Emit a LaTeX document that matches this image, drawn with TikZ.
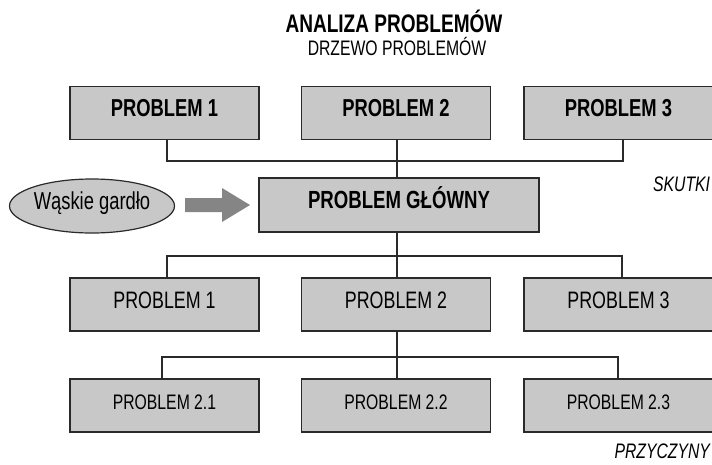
\documentclass[tikz,border=0pt]{standalone}
\usepackage{fontspec}
\setmainfont{Liberation Sans}[FakeStretch=0.75]
\usetikzlibrary{shapes.geometric}
\definecolor{boxfill}{HTML}{C8C8C8}
\definecolor{edge}{HTML}{2A2A2A}
\definecolor{arrowgray}{HTML}{858585}

\begin{document}
\begin{tikzpicture}[x=1pt,y=-1pt,
  every node/.style={inner sep=0pt, outer sep=0pt},
  pbox/.style={draw=edge, line width=1.4pt, fill=boxfill,
    minimum width=189pt, minimum height=53pt, text height=0.72em, text depth=0pt},
  lvlA/.style={pbox, font=\fontsize{24.5}{28}\selectfont\bfseries},
  lvlB/.style={pbox, font=\fontsize{23.8}{28}\selectfont},
  lvlC/.style={pbox, font=\fontsize{21}{25}\selectfont},
  link/.style={draw=edge, line width=1.2pt},
  side/.style={font=\fontsize{21}{25}\selectfont\itshape, anchor=base east}
]
\useasboundingbox (0,0) rectangle (712,464);
\clip (0,0) rectangle (712,464);

% headings
\node[font=\fontsize{25.4}{29}\selectfont\bfseries, anchor=base] (title) at (394,32) {ANALIZA PROBLEMÓW};
\node[font=\fontsize{21}{25}\selectfont, anchor=base] (subtitle) at (397,55) {DRZEWO PROBLEMÓW};

% effects
\node[lvlA] (t1) at (164.5,113) {PROBLEM 1};
\node[lvlA] (t2) at (396,113) {PROBLEM 2};
\node[lvlA] (t3) at (618.5,113) {PROBLEM 3};

% core problem
\node[lvlA, font=\fontsize{24.8}{28}\selectfont\bfseries,
  minimum width=280pt, minimum height=54pt] (core) at (399,205) {PROBLEM GŁÓWNY};

% bottleneck and its arrow
\node[ellipse, draw=edge, line width=1.2pt, fill=boxfill,
  minimum width=165pt, minimum height=54pt] (neck) at (92,206) {};
\node[font=\fontsize{24.5}{28}\selectfont, text height=0.72em, text depth=0pt] (necktext) at (neck.center) {Wąskie gardło};
\fill[arrowgray] (185,198) -- (222,198) -- (222,188) -- (250,205)
  -- (222,222) -- (222,212) -- (185,212) -- cycle;

% causes
\node[lvlB] (m1) at (164.5,304.5) {PROBLEM 1};
\node[lvlB] (m2) at (396,304.5) {PROBLEM 2};
\node[lvlB] (m3) at (618.5,304.5) {PROBLEM 3};

\node[lvlC] (b1) at (164.5,405.5) {PROBLEM 2.1};
\node[lvlC] (b2) at (396,405.5) {PROBLEM 2.2};
\node[lvlC] (b3) at (618.5,405.5) {PROBLEM 2.3};

% connectors
\coordinate (upbar) at (397,161);
\draw[link] ([xshift=2.5pt]t1.south) |- (upbar) -| ([xshift=4.5pt]t3.south);
\draw[link] ([xshift=1pt]t2.south) -- ([xshift=-2pt]core.north);

\coordinate (midbar) at (397,256);
\draw[link] ([xshift=-2pt]core.south) -- ([xshift=1pt]m2.north);
\draw[link] ([xshift=2.5pt]m1.north) |- (midbar) -| ([xshift=3.5pt]m3.north);

\coordinate (lowbar) at (397,357);
\draw[link] ([xshift=1pt]m2.south) -- ([xshift=1pt]b2.north);
\draw[link] ([xshift=-2.5pt]b1.north) |- (lowbar) -| ([xshift=-0.5pt]b3.north);

% side labels
\node[side] (effects) at (710,191) {SKUTKI};
\node[side] (causes) at (710,458.5) {PRZYCZYNY};
\end{tikzpicture}
\end{document}
